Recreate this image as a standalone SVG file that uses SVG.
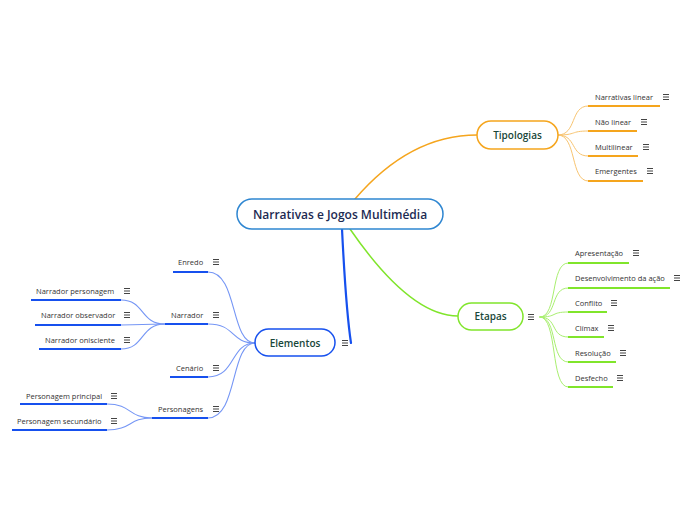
<svg xmlns="http://www.w3.org/2000/svg" width="696" height="520" viewBox="0 0 696 520">
<style>
.bg{fill:#ffffff}
.t0{font-family:"Open Sans","Noto Sans",sans-serif;font-size:12px;font-weight:600;fill:#1c2a52}
.t1{font-family:"Open Sans","Noto Sans",sans-serif;font-size:10px;font-weight:600;fill:#19473a}
.t2{font-family:"Open Sans","Noto Sans",sans-serif;font-size:7.5px;fill:#333333}
.c{fill:none;stroke-linecap:round}
.ic{stroke:#444;stroke-width:1;fill:none}
.uo{stroke:#f5a51d;stroke-width:2}
.ug{stroke:#80e52b;stroke-width:2}
.ub{stroke:#1650ee;stroke-width:2}
.co{stroke:#f8c470;stroke-width:1}
.cg{stroke:#a9ef70;stroke-width:1}
.cb{stroke:#7596f5;stroke-width:1.1}
</style>
<defs>
<g id="menu"><path class="ic" d="M-3,-2.5H3M-3,0H3M-3,2.5H3"/></g>
</defs>
<rect class="bg" width="696" height="520"/>
<g id="connectors">
<path class="c" d="M355,199 Q410,135 477,135" stroke="#f5a51d" stroke-width="1.5"/>
<path class="c" d="M350,229 Q410,316 458,316" stroke="#80e52b" stroke-width="1.5"/>
<path class="c" d="M342,229 Q346,310 351,343" stroke="#1650ee" stroke-width="2.2"/>
<!-- Tipologias children -->
<path class="c co" d="M558,135 C577,135 570,106 588,106"/>
<path class="c co" d="M558,135 C577,135 570,131 588,131"/>
<path class="c co" d="M558,135 C577,135 570,156 588,156"/>
<path class="c co" d="M558,135 C577,135 570,181 588,181"/>
<!-- Etapas children -->
<path class="c cg" d="M540,317 C558,317 550,263 568,263"/>
<path class="c cg" d="M540,317 C558,317 550,288 568,288"/>
<path class="c cg" d="M540,317 C558,317 550,312 568,312"/>
<path class="c cg" d="M540,317 C558,317 550,337 568,337"/>
<path class="c cg" d="M540,317 C558,317 550,362 568,362"/>
<path class="c cg" d="M540,317 C558,317 550,387 568,387"/>
<!-- Elementos children -->
<path class="c cb" d="M208,272 C238,272 230,343 255,343"/>
<path class="c cb" d="M208,324 C236,324 230,343 255,343"/>
<path class="c cb" d="M208,377 C236,377 230,343 255,343"/>
<path class="c cb" d="M208,418 C238,418 230,343 255,343"/>
<!-- Narrador children -->
<path class="c cb" d="M121,300 C145,300 140,324 165,324"/>
<path class="c cb" d="M121,325 C145,325 140,324 165,324"/>
<path class="c cb" d="M121,349 C145,349 140,324 165,324"/>
<!-- Personagens children -->
<path class="c cb" d="M107,404 C132,404 128,418 152,418"/>
<path class="c cb" d="M107,430 C132,430 128,418 152,418"/>
</g>
<g id="central">
<rect x="237" y="199" width="206" height="30" rx="15" fill="#fff" stroke="#2e86d1" stroke-width="1.5"/>
<text class="t0" x="340" y="218.5" text-anchor="middle">Narrativas e Jogos Multimédia</text>
</g>
<g id="tipologias">
<rect x="477" y="121" width="81" height="28" rx="14" fill="#fff" stroke="#f5a51d" stroke-width="1.5"/>
<text class="t1" x="517.5" y="138.5" text-anchor="middle">Tipologias</text>
</g>
<g id="etapas">
<rect x="458" y="303" width="65" height="27" rx="13.5" fill="#fff" stroke="#80e52b" stroke-width="1.5"/>
<text class="t1" x="490.5" y="320" text-anchor="middle">Etapas</text>
<use href="#menu" x="531" y="317"/>
</g>
<g id="elementos">
<rect x="255" y="329" width="80" height="27" rx="13.5" fill="#fff" stroke="#1650ee" stroke-width="1.5"/>
<text class="t1" x="295" y="346.5" text-anchor="middle">Elementos</text>
<use href="#menu" x="345" y="343"/>
</g>
<g id="t-narrativas-linear"><path class="uo" d="M588,106H660"/><text class="t2" x="595" y="99.5">Narrativas linear</text><use href="#menu" x="666" y="97"/></g>
<g id="t-nao-linear"><path class="uo" d="M588,131H637"/><text class="t2" x="595" y="124.5">Não linear</text><use href="#menu" x="644" y="122"/></g>
<g id="t-multilinear"><path class="uo" d="M588,156H638"/><text class="t2" x="595" y="149.5">Multilinear</text><use href="#menu" x="646" y="147"/></g>
<g id="t-emergentes"><path class="uo" d="M588,181H643"/><text class="t2" x="595" y="173.5">Emergentes</text><use href="#menu" x="650" y="171"/></g>
<g id="e-apresentacao"><path class="ug" d="M568,263H629"/><text class="t2" x="575" y="255.5">Apresentação</text><use href="#menu" x="636" y="253"/></g>
<g id="e-desenvolvimento"><path class="ug" d="M568,288H670"/><text class="t2" x="575" y="280.5">Desenvolvimento da ação</text><use href="#menu" x="677" y="278"/></g>
<g id="e-conflito"><path class="ug" d="M568,312H607"/><text class="t2" x="575" y="305.5">Conflito</text><use href="#menu" x="614" y="303"/></g>
<g id="e-climax"><path class="ug" d="M568,337H604"/><text class="t2" x="575" y="330.5">Clímax</text><use href="#menu" x="611" y="328"/></g>
<g id="e-resolucao"><path class="ug" d="M568,362H616"/><text class="t2" x="575" y="355.5">Resolução</text><use href="#menu" x="623" y="353"/></g>
<g id="e-desfecho"><path class="ug" d="M568,387H613"/><text class="t2" x="575" y="380.5">Desfecho</text><use href="#menu" x="620" y="378"/></g>
<g id="el-enredo"><path class="ub" d="M173,272H208"/><text class="t2" x="178" y="264.5">Enredo</text><use href="#menu" x="216" y="262"/></g>
<g id="el-narrador"><path class="ub" d="M165,324H208"/><text class="t2" x="171" y="317.5">Narrador</text><use href="#menu" x="216" y="315"/></g>
<g id="el-cenario"><path class="ub" d="M170,377H208"/><text class="t2" x="176" y="370.5">Cenário</text><use href="#menu" x="216" y="368"/></g>
<g id="el-personagens"><path class="ub" d="M152,418H208"/><text class="t2" x="158" y="411.5">Personagens</text><use href="#menu" x="216" y="409"/></g>
<g id="n-personagem"><path class="ub" d="M31,300H121"/><text class="t2" x="36" y="293.5">Narrador personagem</text><use href="#menu" x="127" y="291"/></g>
<g id="n-observador"><path class="ub" d="M35,325H121"/><text class="t2" x="41" y="317.5">Narrador observador</text><use href="#menu" x="127" y="315"/></g>
<g id="n-onisciente"><path class="ub" d="M39,349H121"/><text class="t2" x="45" y="342.5">Narrador onisciente</text><use href="#menu" x="127" y="340"/></g>
<g id="p-principal"><path class="ub" d="M20,404H107"/><text class="t2" x="26" y="398.5">Personagem principal</text><use href="#menu" x="114" y="396"/></g>
<g id="p-secundario"><path class="ub" d="M12,430H107"/><text class="t2" x="17" y="424">Personagem secundário</text><use href="#menu" x="114" y="421"/></g>
</svg>
